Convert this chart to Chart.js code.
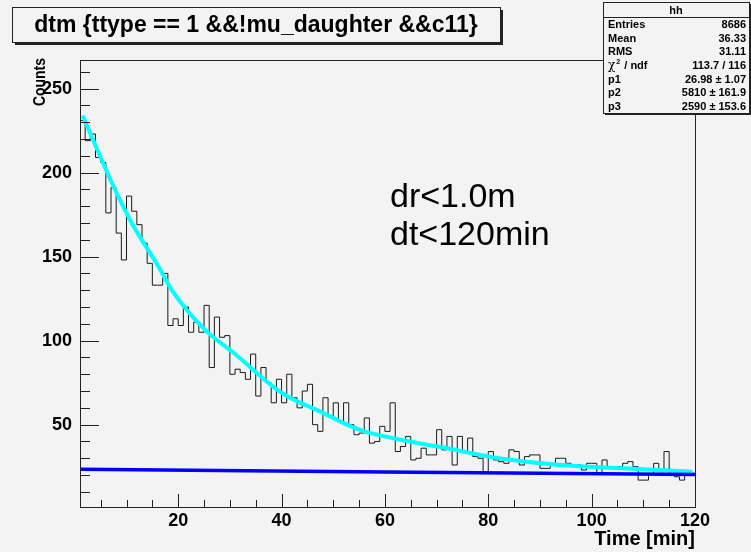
<!DOCTYPE html>
<html>
<head>
<meta charset="utf-8">
<script src="https://cdn.jsdelivr.net/npm/chart.js@4.4.0/dist/chart.umd.min.js"></script>
<style>
  html, body { margin: 0; padding: 0; background: #f3f3f3; }
  #wrap { width: 751px; height: 552px; }
</style>
</head>
<body>
<div id="wrap"><canvas id="dtm" width="751" height="552"></canvas></div>
<script>
// histogram "hh": 1-minute bins, first bin starts at t = 1 min
const binStart = 1;
const binWidth = 1;
const counts = [
  256, 231, 219, 223, 209, 206, 176, 191, 164, 148,
  186, 177, 169, 158, 146, 133, 133, 140, 109, 113,
  109, 120, 105, 111, 105, 121, 84, 114, 102, 103,
  80, 83, 81, 77, 92, 67, 84, 75, 63, 77,
  63, 80, 66, 60, 70, 74, 50, 46, 66, 55,
  63, 52, 63, 50, 44, 45, 54, 39, 40, 49,
  46, 63, 34, 37, 43, 29, 30, 36, 32, 32,
  47, 35, 43, 26, 43, 34, 42, 31, 30, 22,
  34, 29, 28, 27, 35, 34, 26, 31, 32, 32,
  24, 24, 26, 30, 30, 27, 26, 26, 23, 27,
  27, 21, 29, 24, 24, 25, 27, 28, 25, 17,
  17, 21, 27, 22, 34, 21, 19, 17, 21
];

// fitted curve (cyan)
const fitTime   = [1.5, 7, 11, 16, 19, 25, 31, 40, 48, 55, 63, 72, 82, 94, 106, 119.5];
const fitCounts = [234, 195, 170, 145, 129, 107, 92, 69, 57, 47, 41, 36, 30, 26, 24, 22];

// slow background component (blue)
const bgTime   = [1, 60, 120];
const bgCounts = [23.4, 21.9, 20.3];

const xTicks = [20, 40, 60, 80, 100, 120];
const yTicks = [50, 100, 150, 200, 250];

const titleText = 'dtm {ttype == 1 &&!mu_daughter &&c11}';
const yTitle = 'Counts';
const statsName = 'hh';
const statsLabels = ['Entries', 'Mean', 'RMS', 'CHI2', 'p1', 'p2', 'p3'];
const statsValues = ['8686', '36.33', '31.11', '113.7 / 116', '26.98 \u00b1 1.07', '5810 \u00b1 161.9', '2590 \u00b1 153.6'];
const noteLines = ['dr<1.0m', 'dt<120min'];

const BG = '#f3f3f3';
const FONT = '"Liberation Sans", Arial, Helvetica, sans-serif';

const histPoints = counts.map((c, i) => ({ x: binStart + i * binWidth, y: c }));
histPoints.push({ x: binStart + counts.length * binWidth, y: counts[counts.length - 1] });

// ROOT-like frame with ticks pointing inwards, plus the paves
const rootFrame = {
  id: 'rootFrame',
  beforeDraw(chart) {
    const ctx = chart.ctx;
    ctx.save();
    ctx.fillStyle = BG;
    ctx.fillRect(0, 0, chart.width, chart.height);
    ctx.restore();
  },
  afterDatasetsDraw(chart) {
    const { ctx, chartArea: a, scales: { x, y } } = chart;
    ctx.save();
    ctx.strokeStyle = '#222';
    ctx.lineWidth = 1;
    ctx.strokeRect(Math.round(a.left) + 0.5, Math.round(a.top) + 0.5,
      Math.round(a.right - a.left), Math.round(a.bottom - a.top));
    ctx.beginPath();
    for (let v = 10; v <= y.max; v += 10) {
      const py = Math.round(y.getPixelForValue(v)) + 0.5;
      const len = v % 50 === 0 ? 19 : 10;
      ctx.moveTo(a.left, py);
      ctx.lineTo(a.left + len, py);
    }
    for (let v = 5; v <= x.max; v += 5) {
      const px = Math.round(x.getPixelForValue(v)) + 0.5;
      const len = v % 20 === 0 ? 13 : 7;
      ctx.moveTo(px, a.bottom);
      ctx.lineTo(px, a.bottom - len);
    }
    ctx.stroke();
    ctx.restore();
  },
  afterDraw(chart) {
    const ctx = chart.ctx;
    const a = chart.chartArea;
    ctx.save();

    // y axis title, right-aligned at the top of the frame
    ctx.save();
    ctx.translate(45, a.top - 2);
    ctx.rotate(-Math.PI / 2);
    ctx.scale(0.82, 1);
    ctx.fillStyle = '#000';
    ctx.font = 'bold 17px ' + FONT;
    ctx.textAlign = 'right';
    ctx.textBaseline = 'alphabetic';
    ctx.fillText(yTitle, 0, 0);
    ctx.restore();

    // title pave with shadow
    const tx = 12, ty = 7, tw = 488, th = 35;
    ctx.fillStyle = '#222';
    ctx.fillRect(tx + 3, ty + 3, tw, th);
    ctx.fillStyle = BG;
    ctx.fillRect(tx, ty, tw, th);
    ctx.strokeStyle = '#222';
    ctx.lineWidth = 1;
    ctx.strokeRect(tx + 0.5, ty + 0.5, tw, th);
    ctx.fillStyle = '#000';
    ctx.font = 'bold 23px ' + FONT;
    ctx.textAlign = 'center';
    ctx.textBaseline = 'middle';
    ctx.fillText(titleText, tx + tw / 2, ty + th / 2 + 1);

    // stats pave
    const sx = 603, sy = 2, sw = 146, sh = 111, hh = 15;
    ctx.fillStyle = '#222';
    ctx.fillRect(sx + 2, sy + 2, sw, sh);
    ctx.fillStyle = BG;
    ctx.fillRect(sx, sy, sw, sh);
    ctx.strokeRect(sx + 0.5, sy + 0.5, sw, sh);
    ctx.beginPath();
    ctx.moveTo(sx, sy + hh + 0.5);
    ctx.lineTo(sx + sw, sy + hh + 0.5);
    ctx.stroke();
    ctx.fillStyle = '#000';
    ctx.font = 'bold 11px ' + FONT;
    ctx.textAlign = 'center';
    ctx.fillText(statsName, sx + sw / 2, sy + hh / 2 + 1);
    const rowH = (sh - hh) / statsLabels.length;
    statsLabels.forEach((lab, i) => {
      const ry = sy + hh + rowH * (i + 0.5) + 1;
      ctx.textAlign = 'left';
      if (lab === 'CHI2') {
        ctx.font = '12px "DejaVu Serif", serif';
        ctx.fillText('\u03c7', sx + 5, ry);
        const w = ctx.measureText('\u03c7').width;
        ctx.font = 'bold 7px ' + FONT;
        ctx.fillText('2', sx + 5 + w + 1, ry - 4);
        ctx.font = 'bold 11px ' + FONT;
        ctx.fillText('/ ndf', sx + 5 + w + 9, ry);
      } else {
        ctx.font = 'bold 11px ' + FONT;
        ctx.fillText(lab, sx + 5, ry);
      }
      ctx.font = 'bold 11px ' + FONT;
      ctx.textAlign = 'right';
      ctx.fillText(statsValues[i], sx + sw - 3, ry);
    });

    // cut annotation
    ctx.font = '34px ' + FONT;
    ctx.textAlign = 'left';
    ctx.textBaseline = 'alphabetic';
    ctx.fillText(noteLines[0], 390, 207);
    ctx.fillText(noteLines[1], 390, 245);
    ctx.restore();
  }
};

new Chart(document.getElementById('dtm'), {
  type: 'line',
  data: {
    datasets: [
      {
        label: 'hh',
        data: histPoints,
        stepped: 'after',
        borderColor: '#1a1a1a',
        borderWidth: 1,
        pointRadius: 0,
        fill: false,
        order: 3
      },
      {
        label: 'fit',
        data: fitTime.map((t, i) => ({ x: t, y: fitCounts[i] })),
        borderColor: '#00ffff',
        borderWidth: 4,
        pointRadius: 0,
        cubicInterpolationMode: 'monotone',
        fill: false,
        order: 2
      },
      {
        label: 'background',
        data: bgTime.map((t, i) => ({ x: t, y: bgCounts[i] })),
        borderColor: '#0000ff',
        borderWidth: 3.5,
        pointRadius: 0,
        fill: false,
        order: 1
      }
    ]
  },
  options: {
    responsive: false,
    animation: false,
    devicePixelRatio: 1,
    layout: { padding: { left: 0, top: 60, right: 56, bottom: 0 } },
    plugins: {
      legend: { display: false },
      tooltip: { enabled: false },
      title: { display: false }
    },
    scales: {
      x: {
        type: 'linear',
        min: 1,
        max: 120,
        afterBuildTicks: s => { s.ticks = xTicks.map(v => ({ value: v })); },
        afterFit: s => { s.height = 45; s.paddingLeft = 0; s.paddingRight = 0; },
        grid: { display: false, drawTicks: false },
        border: { display: false },
        ticks: {
          color: '#000',
          font: { family: FONT, size: 18, weight: 'bold' },
          padding: 3,
          maxRotation: 0,
          autoSkip: false
        },
        title: {
          display: true,
          text: 'Time [min]',
          align: 'end',
          color: '#000',
          font: { family: FONT, size: 20, weight: 'bold' },
          padding: { top: 0, bottom: 1 }
        }
      },
      y: {
        type: 'linear',
        min: 1,
        max: 267,
        afterBuildTicks: s => { s.ticks = yTicks.map(v => ({ value: v })); },
        afterFit: s => { s.width = 80; s.paddingTop = 0; s.paddingBottom = 0; },
        grid: { display: false, drawTicks: false },
        border: { display: false },
        ticks: {
          color: '#000',
          font: { family: FONT, size: 18, weight: 'bold' },
          padding: 8,
          autoSkip: false
        },
        title: { display: false }
      }
    }
  },
  plugins: [rootFrame]
});
</script>
</body>
</html>
